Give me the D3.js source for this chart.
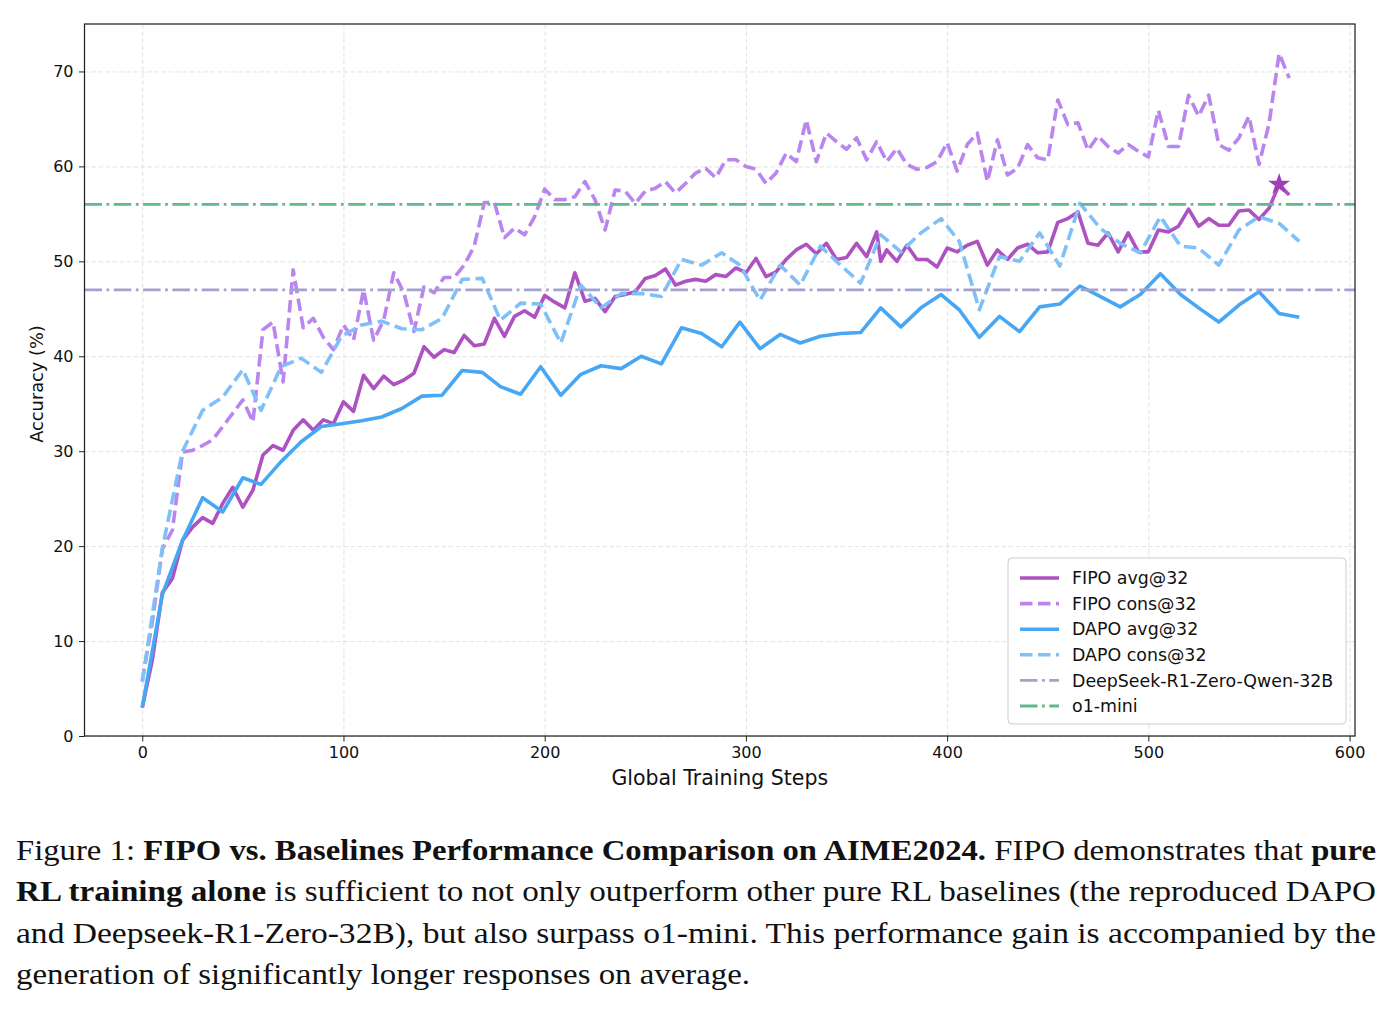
<!DOCTYPE html>
<html>
<head>
<meta charset="utf-8">
<script src="https://cdn.jsdelivr.net/npm/d3@7"></script>
<style>
  body { margin: 0; background: #ffffff; }
</style>
</head>
<body>
<script>
// ---- data ----
const fipoAvgSteps = [0, 5, 10, 15, 20, 25, 30, 35, 40, 45, 50, 55, 60, 65, 70, 75, 80, 85, 90, 95,
  100, 105, 110, 115, 120, 125, 130, 135, 140, 145, 150, 155, 160, 165, 170, 175, 180, 185, 190, 195,
  200, 205, 210, 215, 220, 225, 230, 235, 240, 245, 250, 255, 260, 265, 270, 275, 280, 285, 290, 295,
  300, 305, 310, 315, 320, 325, 330, 335, 340, 345, 350, 355, 360, 365, 367, 370, 375, 380, 385, 390, 395,
  400, 405, 410, 415, 420, 425, 430, 435, 440, 445, 450, 455, 460, 465, 470, 475, 480, 485, 490, 495,
  500, 505, 510, 515, 520, 525, 530, 535, 540, 545, 550, 555, 560, 565, 570];
const fipoAvg = [3.0, 8.0, 15.1, 16.6, 20.6, 22.0, 23.0, 22.4, 24.5, 26.2, 24.1, 25.9, 29.6, 30.6, 30.1, 32.2, 33.3, 32.2, 33.3, 32.9,
  35.2, 34.2, 38.0, 36.6, 37.9, 37.0, 37.5, 38.2, 41.0, 39.9, 40.7, 40.4, 42.2, 41.1, 41.3, 44.0, 42.1, 44.2, 44.8, 44.1,
  46.4, 45.7, 45.1, 48.8, 45.8, 46.1, 44.7, 46.3, 46.5, 46.8, 48.2, 48.5, 49.2, 47.5, 47.9, 48.1, 47.9, 48.6, 48.4, 49.3,
  48.8, 50.3, 48.4, 48.9, 50.2, 51.2, 51.8, 50.8, 51.9, 50.2, 50.4, 51.9, 50.5, 53.1, 50.0, 51.2, 50.0, 51.7, 50.2, 50.2, 49.4,
  51.4, 51.0, 51.7, 52.1, 49.6, 51.2, 50.2, 51.4, 51.8, 50.9, 51.0, 54.1, 54.5, 55.2, 51.9, 51.7, 53.0, 51.0, 53.0, 51.0,
  51.0, 53.3, 53.1, 53.7, 55.5, 53.7, 54.5, 53.8, 53.8, 55.3, 55.4, 54.4, 55.6, 58.1, 57.0];

const fipoConsSteps = [0, 5, 10, 15, 20, 25, 30, 35, 40, 45, 50, 55, 60, 65, 70, 75, 80, 85, 90, 95,
  100, 105, 110, 115, 120, 125, 130, 135, 140, 145, 150, 155, 160, 165, 170, 175, 180, 185, 190, 195,
  200, 205, 210, 215, 220, 225, 230, 235, 240, 245, 250, 255, 260, 265, 270, 275, 280, 285, 290, 295,
  300, 305, 310, 315, 320, 325, 330, 335, 340, 345, 350, 355, 360, 365, 370, 375, 380, 385, 390, 395,
  400, 405, 410, 415, 420, 425, 430, 435, 440, 445, 450, 455, 460, 465, 470, 475, 480, 485, 490, 495,
  500, 505, 510, 515, 520, 525, 530, 535, 540, 545, 550, 555, 560, 565, 570];
const fipoCons = [5.8, 12.0, 19.7, 21.7, 29.9, 30.1, 30.6, 31.2, 32.6, 34.0, 35.4, 33.1, 42.8, 43.6, 37.3, 49.1, 43.0, 44.0, 42.0, 40.7,
  43.3, 41.7, 47.0, 41.7, 43.8, 48.8, 46.7, 42.6, 47.3, 46.7, 48.3, 48.3, 49.6, 51.6, 56.2, 56.2, 52.5, 53.5, 52.8, 54.7,
  57.6, 56.5, 56.5, 56.8, 58.4, 56.5, 53.3, 57.5, 57.4, 56.1, 57.4, 57.7, 58.4, 57.2, 58.2, 59.3, 59.8, 58.8, 60.7, 60.7,
  60.0, 59.7, 58.2, 59.3, 61.4, 60.5, 64.9, 60.5, 63.5, 62.6, 61.8, 63.0, 60.7, 62.6, 60.5, 61.9, 60.2, 59.7, 59.9, 60.5,
  62.5, 59.5, 62.3, 63.5, 58.4, 62.8, 59.1, 59.8, 62.3, 60.9, 60.7, 67.0, 64.4, 64.6, 61.7, 63.2, 62.1, 61.4, 62.3, 61.6,
  61.0, 65.9, 62.1, 62.1, 67.5, 65.3, 67.5, 62.3, 61.7, 63.0, 65.3, 60.2, 64.5, 71.9, 69.3];

const dapoSteps = [0, 10, 20, 30, 40, 50, 59, 69, 79, 89, 99, 109, 119, 129, 139, 149, 159, 169, 178, 188,
  198, 208, 218, 228, 238, 248, 258, 268, 278, 288, 297, 307, 317, 327, 337, 347, 357, 367, 377, 387,
  397, 406, 416, 426, 436, 446, 456, 466, 476, 486, 496, 506, 516, 525, 535, 545, 555, 565, 575];
const dapoAvg = [3.0, 14.9, 20.6, 25.1, 23.6, 27.2, 26.5, 28.9, 31.0, 32.6,
  32.9, 33.2, 33.6, 34.5, 35.8, 35.9, 38.5, 38.3, 36.8, 36.0,
  38.9, 35.9, 38.1, 39.0, 38.7, 40.0, 39.2, 43.0, 42.4, 41.0,
  43.6, 40.8, 42.3, 41.4, 42.1, 42.4, 42.5, 45.1, 43.1, 45.1,
  46.5, 44.9, 42.0, 44.2, 42.6, 45.2, 45.5, 47.4, 46.3, 45.2,
  46.5, 48.7, 46.5, 45.1, 43.6, 45.4, 46.8, 44.5, 44.1];
const dapoCons = [5.7, 19.8, 30.0, 34.3, 35.7, 38.6, 34.3, 38.9, 39.8, 38.3,
  42.1, 43.3, 43.7, 42.9, 42.8, 44.0, 48.1, 48.2, 43.8, 45.6,
  45.5, 41.4, 47.5, 45.1, 46.6, 46.6, 46.3, 50.2, 49.6, 50.9,
  49.6, 45.9, 49.6, 47.5, 51.6, 49.6, 47.7, 52.8, 51.0, 53.0,
  54.5, 52.1, 44.9, 50.5, 50.0, 53.0, 49.5, 56.1, 53.5, 51.9,
  50.9, 54.7, 51.6, 51.4, 49.6, 53.3, 54.7, 54.0, 52.1];

const deepseekLevel = 47.0;
const o1MiniLevel = 56.0;
const bestPoint = [565, 58.1];

const xTicks = [0, 100, 200, 300, 400, 500, 600];
const yTicks = [0, 10, 20, 30, 40, 50, 60, 70];

const captionLines = [
  [["Figure 1: ", false], ["FIPO vs. Baselines Performance Comparison on AIME2024.", true], [" FIPO demonstrates that ", false], ["pure", true]],
  [["RL training alone", true], [" is sufficient to not only outperform other pure RL baselines (the reproduced DAPO", false]],
  [["and Deepseek-R1-Zero-32B), but also surpass o1-mini.  This performance gain is accompanied by the", false]],
  [["generation of significantly longer responses on average.", false]]
];

function main() {
  const W = 1392, H = 1009;
  const left = 84.5, right = 1355, top = 24, bottom = 736;
  const font = "DejaVu Sans";

  let svg = d3.select("body").append("svg")
    .attr("width", W)
    .attr("height", H)
    .style("display", "block");

  svg.append("rect").attr("width", W).attr("height", H).attr("fill", "#ffffff");

  let xScale = d3.scaleLinear().domain([-28.7, 602.7]).range([left, right]);
  let yScale = d3.scaleLinear().domain([0, 75]).range([bottom, top]);

  // grid
  svg.append("g")
    .attr("transform", `translate(0,${bottom})`)
    .call(d3.axisBottom(xScale).tickValues(xTicks).tickSize(-(bottom - top)).tickFormat(""))
    .call(g => g.select(".domain").remove())
    .selectAll("line")
    .attr("stroke", "#d9d9d9")
    .attr("stroke-width", 0.8)
    .attr("stroke-dasharray", "4.5,2.5");

  svg.append("g")
    .attr("transform", `translate(${left},0)`)
    .call(d3.axisLeft(yScale).tickValues(yTicks).tickSize(-(right - left)).tickFormat(""))
    .call(g => g.select(".domain").remove())
    .selectAll("line")
    .attr("stroke", "#d9d9d9")
    .attr("stroke-width", 0.8)
    .attr("stroke-dasharray", "4.5,2.5");

  // series
  const series = [
    { label: "FIPO avg@32", steps: fipoAvgSteps, values: fipoAvg, color: "#ad52c0", dash: null, width: 3.6 },
    { label: "FIPO cons@32", steps: fipoConsSteps, values: fipoCons, color: "#b985ee", dash: "12.5,5.5", width: 3.6 },
    { label: "DAPO avg@32", steps: dapoSteps, values: dapoAvg, color: "#48a7f4", dash: null, width: 3.6 },
    { label: "DAPO cons@32", steps: dapoSteps, values: dapoCons, color: "#80c0f9", dash: "12.5,5.5", width: 3.6 }
  ];
  const refs = [
    { label: "DeepSeek-R1-Zero-Qwen-32B", level: deepseekLevel, color: "#a3a1cf", dash: "17.5,4.5,2.8,4.5", width: 2.8 },
    { label: "o1-mini", level: o1MiniLevel, color: "#5fb98b", dash: "17.5,4.5,2.8,4.5", width: 2.8 }
  ];

  let line = d3.line()
    .x(d => xScale(d[0]))
    .y(d => yScale(d[1]));

  series.forEach(s => {
    svg.append("path")
      .datum(d3.zip(s.steps, s.values))
      .attr("d", line)
      .attr("fill", "none")
      .attr("stroke", s.color)
      .attr("stroke-width", s.width)
      .attr("stroke-linejoin", "round")
      .attr("stroke-dasharray", s.dash);
  });

  refs.forEach(r => {
    svg.append("line")
      .attr("x1", left)
      .attr("x2", right)
      .attr("y1", yScale(r.level))
      .attr("y2", yScale(r.level))
      .attr("stroke", r.color)
      .attr("stroke-width", r.width)
      .attr("stroke-dasharray", r.dash);
  });

  // best checkpoint star
  svg.append("path")
    .attr("d", d3.symbol().type(d3.symbolStar).size(150)())
    .attr("transform", `translate(${xScale(bestPoint[0])},${yScale(bestPoint[1])})`)
    .attr("fill", "#a23db8");

  // frame
  svg.append("rect")
    .attr("x", left).attr("y", top)
    .attr("width", right - left).attr("height", bottom - top)
    .attr("fill", "none")
    .attr("stroke", "#222")
    .attr("stroke-width", 1.25);

  // axes
  let xAxis = d3.axisBottom(xScale).tickValues(xTicks).tickSize(5.5).tickPadding(5).tickSizeOuter(0);
  let yAxis = d3.axisLeft(yScale).tickValues(yTicks).tickSize(5.5).tickPadding(5.5).tickSizeOuter(0);

  svg.append("g")
    .attr("transform", `translate(0,${bottom})`)
    .call(xAxis)
    .call(g => g.select(".domain").remove())
    .call(g => g.selectAll("line").attr("stroke", "#222").attr("stroke-width", 1))
    .call(g => g.selectAll("text").attr("fill", "#111"))
    .style("font-family", font)
    .style("font-size", "16px");

  svg.append("g")
    .attr("transform", `translate(${left},0)`)
    .call(yAxis)
    .call(g => g.select(".domain").remove())
    .call(g => g.selectAll("line").attr("stroke", "#222").attr("stroke-width", 1))
    .call(g => g.selectAll("text").attr("fill", "#111"))
    .style("font-family", font)
    .style("font-size", "16px");

  svg.append("text")
    .attr("x", (left + right) / 2)
    .attr("y", 785)
    .attr("text-anchor", "middle")
    .style("font-family", font)
    .style("font-size", "20.5px")
    .attr("fill", "#111")
    .text("Global Training Steps");

  svg.append("text")
    .attr("transform", `translate(43,${(top + bottom) / 2 + 4}) rotate(-90)`)
    .attr("text-anchor", "middle")
    .style("font-family", font)
    .style("font-size", "17.8px")
    .attr("fill", "#111")
    .text("Accuracy (%)");

  // legend
  let legend = svg.append("g").attr("transform", "translate(1008,558)");
  legend.append("rect")
    .attr("width", 338).attr("height", 166)
    .attr("rx", 4)
    .attr("fill", "#ffffff").attr("fill-opacity", 0.85)
    .attr("stroke", "#cccccc").attr("stroke-width", 1);

  const entries = series.concat(refs);
  entries.forEach((e, i) => {
    let cy = 20 + i * 25.6;
    legend.append("line")
      .attr("x1", 12).attr("x2", 51)
      .attr("y1", cy).attr("y2", cy)
      .attr("stroke", e.color)
      .attr("stroke-width", e.width)
      .attr("stroke-dasharray", e.dash);
    legend.append("text")
      .attr("x", 64)
      .attr("y", cy)
      .attr("dy", "0.36em")
      .style("font-family", font)
      .style("font-size", "17.4px")
      .attr("fill", "#111")
      .text(e.label);
  });

  // caption
  const capBaselines = [860, 901, 943, 984];
  const capWidths = [1360, 1360, 1360, 734];
  captionLines.forEach((parts, i) => {
    let t = svg.append("text")
      .attr("x", 16)
      .attr("y", capBaselines[i])
      .style("font-family", "Liberation Serif")
      .style("font-size", "30px")
      .attr("fill", "#111")
      .attr("textLength", capWidths[i])
      .attr("lengthAdjust", "spacingAndGlyphs");
    parts.forEach(p => {
      t.append("tspan")
        .attr("font-weight", p[1] ? "bold" : "normal")
        .text(p[0]);
    });
  });
}

main();
</script>
</body>
</html>
